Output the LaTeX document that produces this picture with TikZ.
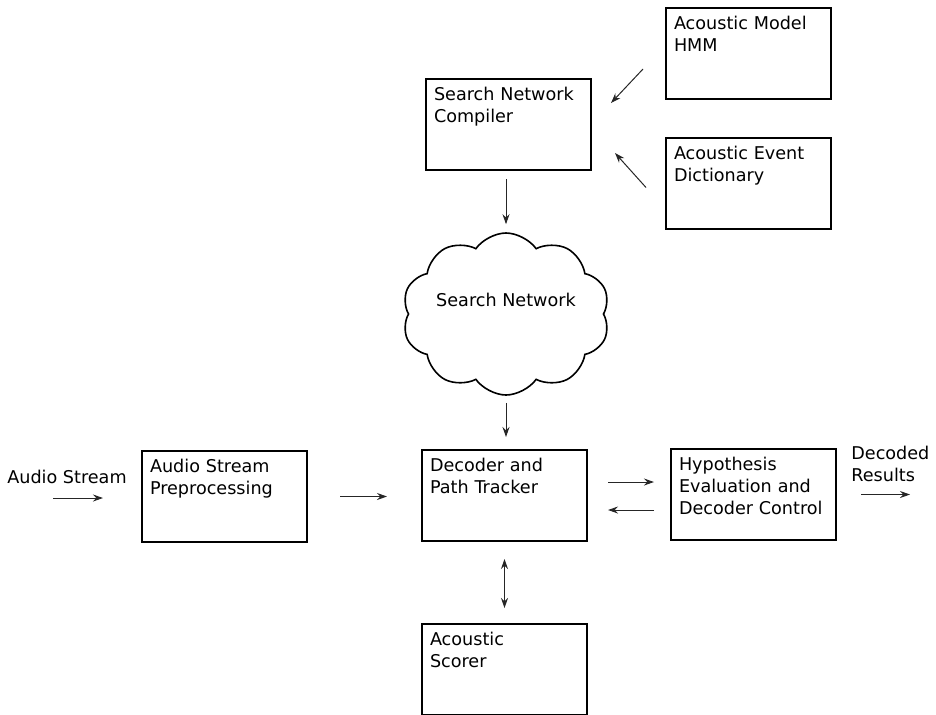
\documentclass[tikz,border=0pt]{standalone}
\usepackage{fontspec}
\setmainfont{DejaVu Sans}
\usetikzlibrary{shapes.symbols,arrows.meta}

\begin{document}
\begin{tikzpicture}[
  x=0.5pt, y=-0.5pt,
  every node/.style={font=\fontsize{8.8}{11}\selectfont},
  box/.style={draw, line width=1pt, anchor=north west, text width=74.5pt, align=left,
    inner xsep=4pt, inner ysep=3.5pt, text height=7pt, text depth=31.5pt},
  arr/.style={-{Stealth[length=5pt,width=3.5pt]}, line width=0.5pt, draw=black!85},
  dblarr/.style={{Stealth[length=5pt,width=3.5pt]}-{Stealth[length=5pt,width=3.5pt]}, line width=0.5pt, draw=black!85}
]
\useasboundingbox (0,0) rectangle (936,714);

\node[box] (model) at (665,7) {Acoustic Model\\HMM};
\node[box] (comp) at (425,78) {Search Network\\Compiler};
\node[box] (dict) at (665,137) {Acoustic Event\\Dictionary};
\node[cloud, draw, line width=0.8pt, cloud puffs=10, cloud puff arc=110, aspect=1.6,
  inner sep=0pt, minimum width=101.5pt, minimum height=81pt,
  text height=7pt, text depth=15pt] (net) at (506,314) {Search Network};
\node[box] (pre) at (141,450) {Audio Stream\\Preprocessing};
\node[box] (dec) at (421,449) {Decoder and\\Path Tracker};
\node[box] (hyp) at (670,448) {Hypothesis\\Evaluation and\\Decoder Control};
\node[box] (scorer) at (421,623) {Acoustic\\Scorer};
\node (src) at (67,477) {Audio Stream};
\node[anchor=north west, inner sep=0pt, align=left] (res) at (851,446) {Decoded\\Results};

\draw[arr] ([xshift=-11pt,yshift=-7.75pt]model.west) -- ([xshift=9.5pt,yshift=10.75pt]comp.east);
\draw[arr] ([xshift=-9.5pt,yshift=-2pt]dict.west) -- ([xshift=11.5pt,yshift=-14.25pt]comp.east);
\draw[arr, shorten <=4pt, shorten >=4pt] (comp.south -| net.north) -- (net.north);
\draw[arr, shorten <=3.5pt, shorten >=6pt] (net.south) -- (net.south |- dec.north);
\draw[arr] ([xshift=-44pt,yshift=-0.75pt]pre.west) -- ([xshift=-19pt,yshift=-0.75pt]pre.west);
\draw[arr, shorten <=16pt, shorten >=17pt] (pre.east) -- (pre.east -| dec.west);
\draw[arr, shorten <=10pt, shorten >=8pt] ([yshift=6.75pt]dec.east) -- ([yshift=6.75pt]dec.east -| hyp.west);
\draw[arr, shorten <=8pt, shorten >=10pt] ([yshift=-7.75pt]hyp.west) -- ([yshift=-7.75pt]hyp.west -| dec.east);
\draw[arr] ([xshift=12pt]hyp.east) -- ([xshift=36.5pt]hyp.east);
\draw[dblarr, shorten <=8.5pt, shorten >=7.5pt] (dec.south) -- (scorer.north);

\end{tikzpicture}
\end{document}
